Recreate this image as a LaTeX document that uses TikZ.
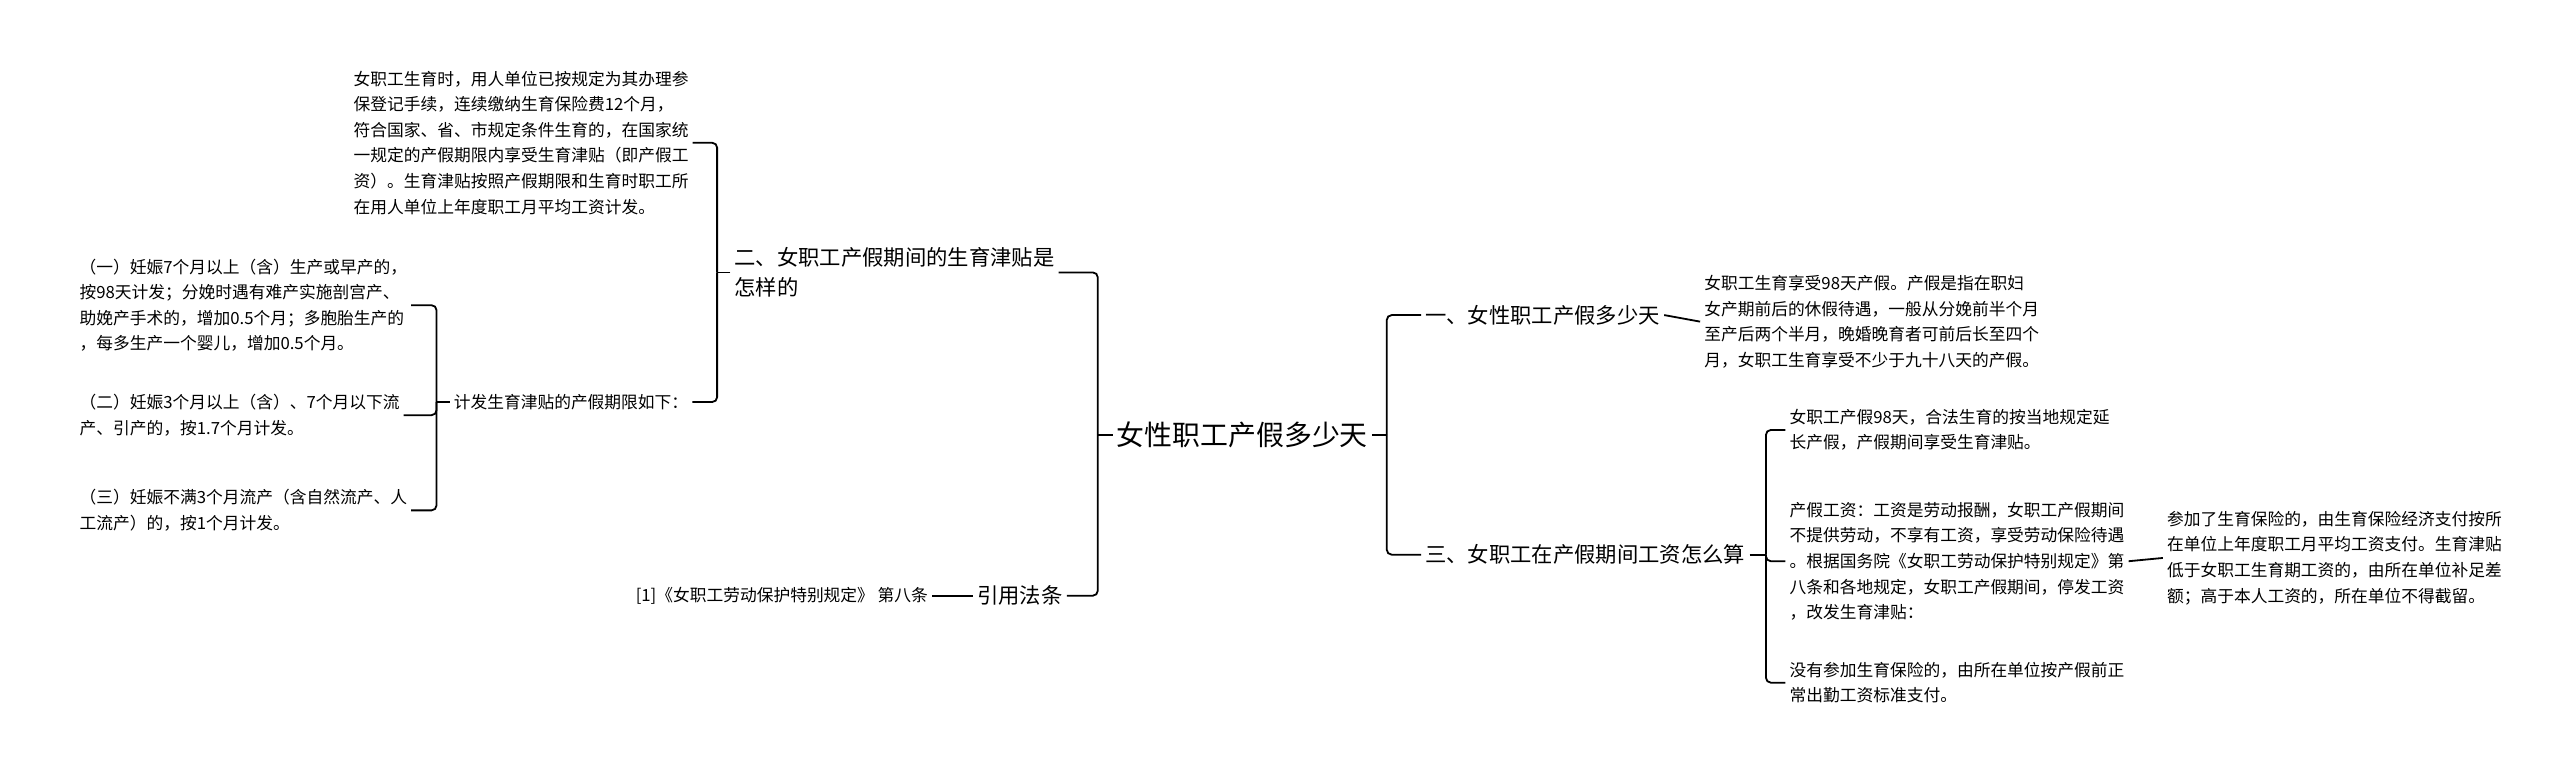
\documentclass[tikz,border=0pt]{standalone}
\usepackage{fontspec}
\setmainfont{Noto Sans CJK SC}
\usetikzlibrary{positioning}

\begin{document}
\begin{tikzpicture}[x=1pt, y=-1pt, line width=1.1pt,
    every node/.style={inner sep=2pt, align=left},
    rootnode/.style={font=\fontsize{17}{21}\selectfont},
    topic/.style={font=\fontsize{13}{18}\selectfont},
    leaf/.style={font=\fontsize{10.2}{15.6}\selectfont},
    br/.style={rounded corners=3pt}]
  \useasboundingbox (0,0) rectangle (1560,473);

  \node[rootnode] (root) at (757,265) {女性职工产假多少天};

  % left side
  \node[topic, anchor=west] (n2) at (445,166) {二、女职工产假期间的生育津贴是\\怎样的};
  \node[leaf, anchor=west] (n2a) at (213,87) {女职工生育时，用人单位已按规定为其办理参\\保登记手续，连续缴纳生育保险费12个月，\\符合国家、省、市规定条件生育的，在国家统\\一规定的产假期限内享受生育津贴（即产假工\\资）。生育津贴按照产假期限和生育时职工所\\在用人单位上年度职工月平均工资计发。};
  \node[leaf, anchor=west] (n2b) at (274,245) {计发生育津贴的产假期限如下：};
  \node[leaf, anchor=west] (c1) at (46,186) {（一）妊娠7个月以上（含）生产或早产的，\\按98天计发；分娩时遇有难产实施剖宫产、\\助娩产手术的，增加0.5个月；多胞胎生产的\\，每多生产一个婴儿，增加0.5个月。};
  \node[leaf, anchor=west] (c2) at (46,253) {（二）妊娠3个月以上（含）、7个月以下流\\产、引产的，按1.7个月计发。};
  \node[leaf, anchor=west] (c3) at (46,311) {（三）妊娠不满3个月流产（含自然流产、人\\工流产）的，按1个月计发。};
  \node[topic, anchor=west] (ref) at (593,363) {引用法条};
  \node[leaf, anchor=east] (law) at (568,363) {[1]《女职工劳动保护特别规定》 第八条};

  % right side
  \node[topic, anchor=west] (r1) at (866,192) {一、女性职工产假多少天};
  \node[leaf, anchor=west] (r1a) at (1036,196) {女职工生育享受98天产假。产假是指在职妇\\女产期前后的休假待遇，一般从分娩前半个月\\至产后两个半月，晚婚晚育者可前后长至四个\\月，女职工生育享受不少于九十八天的产假。};
  \node[topic, anchor=west] (r3) at (866,338) {三、女职工在产假期间工资怎么算};
  \node[leaf, anchor=west] (r3a) at (1088,262) {女职工产假98天，合法生育的按当地规定延\\长产假，产假期间享受生育津贴。};
  \node[leaf, anchor=west] (r3b) at (1088,342) {产假工资：工资是劳动报酬，女职工产假期间\\不提供劳动，不享有工资，享受劳动保险待遇\\。根据国务院《女职工劳动保护特别规定》第\\八条和各地规定，女职工产假期间，停发工资\\，改发生育津贴：};
  \node[leaf, anchor=west] (r3b1) at (1318,340) {参加了生育保险的，由生育保险经济支付按所\\在单位上年度职工月平均工资支付。生育津贴\\低于女职工生育期工资的，由所在单位补足差\\额；高于本人工资的，所在单位不得截留。};
  \node[leaf, anchor=west] (r3c) at (1088,416) {没有参加生育保险的，由所在单位按产假前正\\常出勤工资标准支付。};

  \draw (root.west) -- ++(-9,0) coordinate (rl);
  \draw[br] (rl) |- (n2.east);
  \draw[br] (rl) |- (ref.east);
  \draw (root.east) -- ++(9,0) coordinate (rr);
  \draw[br] (rr) |- (r1.west);
  \draw[br] (rr) |- (r3.west);

  \draw (n2.west) -- ++(-8,0) coordinate (l2);
  \draw[br] (l2) |- (n2a.east);
  \draw[br] (l2) |- (n2b.east);
  \draw (n2b.west) -- ++(-8,0) coordinate (l2b);
  \draw[br] (l2b) |- (c1.east);
  \draw[br] (l2b) |- (c2.east);
  \draw[br] (l2b) |- (c3.east);
  \draw (law.east) -- (ref.west);

  \draw (r1.east) -- (r1a.west);
  \draw (r3.east) -- ++(10,0) coordinate (l3);
  \draw[br] (l3) |- (r3a.west);
  \draw[br] (l3) |- (r3b.west);
  \draw[br] (l3) |- (r3c.west);
  \draw (r3b.east) -- (r3b1.west);
\end{tikzpicture}
\end{document}
